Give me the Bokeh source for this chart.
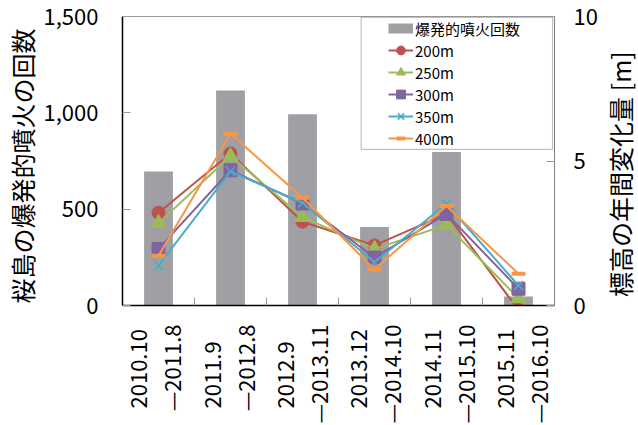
import math
from bokeh.plotting import figure
from bokeh.layouts import column, row
from bokeh.models import (Range1d, LinearAxis, FixedTicker, NumeralTickFormatter,
                          Legend, LegendItem, BoxAnnotation, ColumnDataSource)
from bokeh.core.properties import value
from bokeh.embed import file_html
from bokeh.resources import INLINE

# ---------------- data ----------------
periods_start = ["2010.10", "2011.9", "2012.9", "2013.12", "2014.11", "2015.11"]
periods_end = ["—2011.8", "—2012.8", "—2013.11", "—2014.10", "—2015.10", "—2016.10"]
eruptions = [695, 1116, 993, 408, 797, 47]          # 爆発的噴火回数 (left axis)
h200 = [3.21, 5.26, 2.90, 2.08, 3.17, -0.15]        # 標高の年間変化量 [m] (right axis)
h250 = [2.85, 5.17, 3.06, 1.96, 2.79, 0.25]
h300 = [1.96, 4.68, 3.53, 1.66, 3.17, 0.58]
h350 = [1.38, 4.64, 3.55, 1.50, 3.52, 0.69]
h400 = [1.72, 5.94, 3.73, 1.25, 3.44, 1.10]
series_names = ["200m", "250m", "300m", "350m", "400m"]
left_ticks = [0, 500, 1000, 1500]
right_ticks = [0, 5, 10]
bar_label = "爆発的噴火回数"
left_title = "桜島の爆発的噴火の回数"
right_title = "標高の年間変化量 [m]"

# ---------------- style ----------------
FONT = "Noto Sans CJK JP"
BAR = "#A0A0A4"
colors = ["#C0504D", "#9BBB59", "#8064A2", "#4BACC6", "#F79646"]
markers = ["circle", "triangle", "square", "x", "dash"]
msizes = [13, 15, 13, 13, 14]
mlw = [1, 1, 1, 1.6, 4]

TOP_H = 321              # height of the chart row (frame spans y 16..305)
BOT_H = 425 - TOP_H      # height of the category-label strip
LEFT_W = 40              # strip holding the left title
RIGHT_W = 38             # strip holding the right title
MAIN_W = 638 - LEFT_W - RIGHT_W
FRAME_L = 118            # frame left edge in the page
FRAME_R = 558            # frame right edge in the page

n = len(eruptions)
xs = [i + 0.5 for i in range(n)]
xr = Range1d(0, n)


def strip(w, h, **kw):
    f = figure(width=w, height=h, x_range=kw.pop("x_range", Range1d(0, w)),
               y_range=Range1d(0, h), output_backend="svg", toolbar_location=None,
               x_axis_location=None, y_axis_location=None, **kw)
    f.grid.visible = False
    f.outline_line_color = None
    f.background_fill_color = "white"
    f.border_fill_color = "white"
    return f


# ---------------- main chart ----------------
p = figure(width=MAIN_W, height=TOP_H, x_range=xr, y_range=Range1d(0, 1500),
           output_backend="svg", toolbar_location=None,
           min_border_left=FRAME_L - LEFT_W, min_border_right=638 - RIGHT_W - FRAME_R,
           min_border_top=16, min_border_bottom=TOP_H - 305)
p.extra_y_ranges = {"right": Range1d(0, 10)}
p.xgrid.visible = False
p.ygrid.visible = False
p.outline_line_color = "#9a9a9a"
p.background_fill_color = "white"
p.border_fill_color = "white"

ya = p.yaxis[0]
ya.ticker = FixedTicker(ticks=left_ticks)
ya.formatter = NumeralTickFormatter(format="0,0")
ya.major_tick_in = 8
ya.major_tick_out = 0
ya.minor_tick_line_color = None
ya.major_tick_line_color = "#999999"
ya.axis_line_color = "black"
ya.axis_line_width = 1.5
ya.major_label_standoff = 24
ya.major_label_text_font = FONT
ya.major_label_text_font_size = "22px"
ya.major_label_text_color = "black"

ra = LinearAxis(y_range_name="right", ticker=FixedTicker(ticks=right_ticks))
ra.major_tick_in = 8
ra.major_tick_out = 0
ra.minor_tick_line_color = None
ra.major_tick_line_color = "#999999"
ra.axis_line_color = "#7f7f7f"
ra.axis_line_width = 1
ra.major_label_standoff = 19
ra.major_label_text_font = FONT
ra.major_label_text_font_size = "22px"
ra.major_label_text_color = "black"
p.add_layout(ra, "right")

xa = p.xaxis[0]
xa.ticker = FixedTicker(ticks=list(range(1, n)))
xa.major_label_overrides = {i: "" for i in range(1, n)}
xa.major_label_text_font_size = "0px"
xa.major_label_standoff = 0
xa.major_tick_in = 8
xa.major_tick_out = 0
xa.minor_tick_line_color = None
xa.major_tick_line_color = "#999999"
xa.axis_line_color = "black"
xa.axis_line_width = 1.5

src = ColumnDataSource(dict(x=xs, eruptions=eruptions))
p.vbar(x="x", top="eruptions", width=0.4, source=src, fill_color=BAR, line_color=None)

legend_items = []
# legend swatch for the bars: a thick gray stroke with no visible data
bar_leg = p.line(x=[float("nan")], y=[float("nan")], line_color=BAR, line_width=10)
legend_items.append(LegendItem(label=bar_label, renderers=[bar_leg]))
for name, vals, c, m, s, lw in zip(series_names, [h200, h250, h300, h350, h400],
                                   colors, markers, msizes, mlw):
    ls = ColumnDataSource(dict(x=xs, y=vals))
    r1 = p.line("x", "y", source=ls, y_range_name="right", line_color=c, line_width=2)
    r2 = p.scatter("x", "y", source=ls, y_range_name="right", marker=m, size=s,
                   fill_color=c, line_color=c, line_width=lw)
    legend_items.append(LegendItem(label=name, renderers=[r1, r2]))

p.add_layout(BoxAnnotation(left=3.314, right=5.973, top=1495, bottom=810,
                           fill_color="white", fill_alpha=1.0,
                           line_color="#333333", line_width=1.2))
legend = Legend(items=legend_items, location=(266, 156), padding=0, margin=0, spacing=0,
                glyph_width=25, glyph_height=22, label_height=22, label_standoff=2,
                label_text_font=FONT, label_text_font_size="15px", label_text_color="black",
                border_line_alpha=0, background_fill_alpha=0)
p.add_layout(legend)

# ---------------- left / right titles ----------------
pl = strip(LEFT_W, TOP_H, min_border=0)
pl.text(x=[21], y=[TOP_H - 166], text=[left_title], angle=math.pi / 2,
        text_align="center", text_baseline="middle", text_font=value(FONT),
        text_font_size="25px", text_color="black")

pr = strip(RIGHT_W, TOP_H, min_border=0)
pr.text(x=[19], y=[TOP_H - 175], text=[right_title], angle=math.pi / 2,
        text_align="center", text_baseline="middle", text_font=value(FONT),
        text_font_size="25px", text_color="black")

# ---------------- category labels ----------------
pb = strip(638, BOT_H, x_range=xr, min_border_left=FRAME_L, min_border_right=638 - FRAME_R,
           min_border_top=0, min_border_bottom=0)
lab = ColumnDataSource(dict(x=xs, s=periods_start, e=periods_end))
pb.text(x="x", y=425 - 408, text="s", source=lab, angle=math.pi / 2, x_offset=-16,
        text_align="left", text_baseline="middle", text_font=value(FONT),
        text_font_size="22px", text_color="black")
pb.text(x="x", y=425 - 324, text="e", source=lab, angle=math.pi / 2, x_offset=16,
        text_align="right", text_baseline="middle", text_font=value(FONT),
        text_font_size="22px", text_color="black")

layout = column(row(pl, p, pr), pb)
open("out.html", "w").write(file_html(layout, INLINE))
